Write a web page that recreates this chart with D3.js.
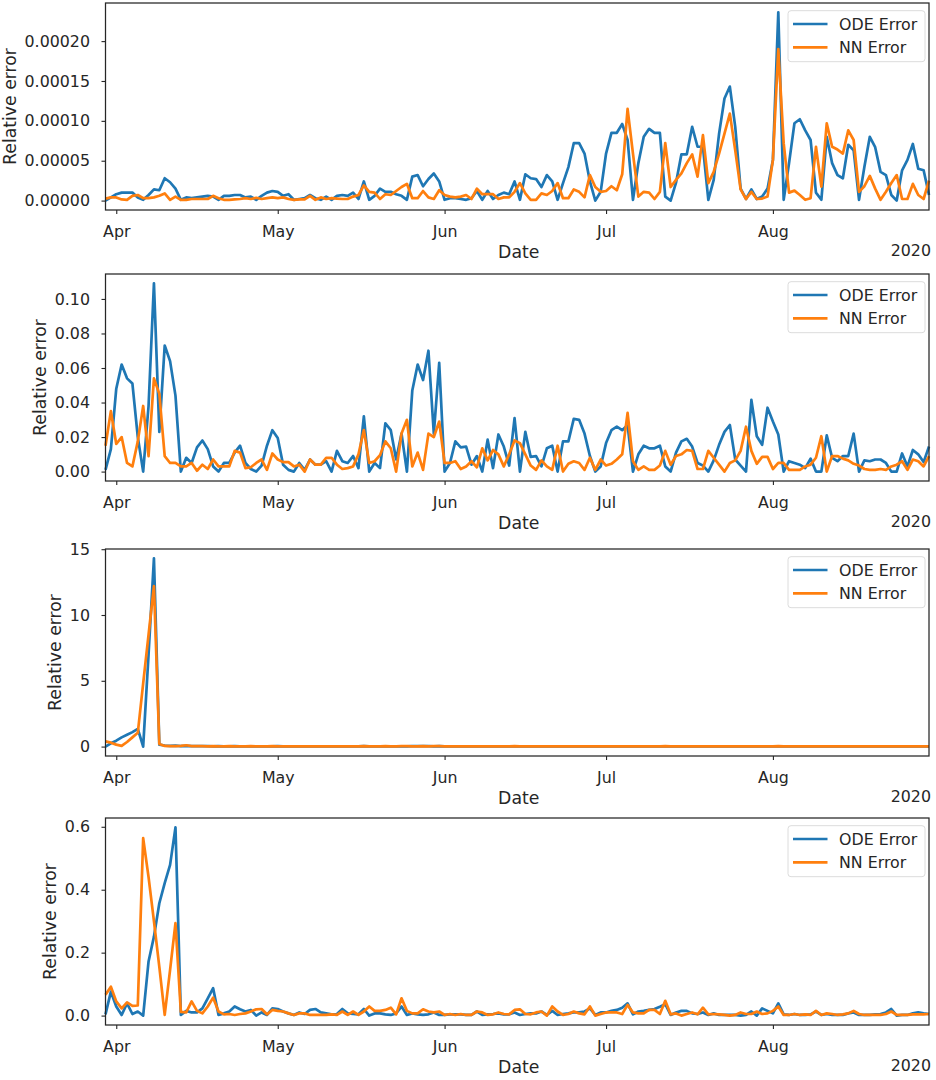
<!DOCTYPE html>
<html>
<head>
<meta charset="utf-8">
<script src="https://cdn.jsdelivr.net/npm/d3@7"></script>
<style>
  body { margin: 0; background: #fff; }
  svg text { font-family: "DejaVu Sans", sans-serif; fill: #262626; }
</style>
</head>
<body>
<svg id="chart" width="936" height="1080"></svg>
<script>
// daily values start on this date
const startDate = new Date(2020, 2, 30);
const monthTicks = [new Date(2020, 3, 1), new Date(2020, 4, 1), new Date(2020, 5, 1), new Date(2020, 6, 1), new Date(2020, 7, 1)];
const monthLabels = ["Apr", "May", "Jun", "Jul", "Aug"];
const yearLabel = "2020";
const seriesNames = ["ODE Error", "NN Error"];

// panel 1, values x 1e-5
const ode1 = [0, 0.4, 0.8, 1.0, 1.0, 1.0, 0.4, 0.1, 0.7, 1.4,
  1.3, 2.8, 2.3, 1.5, 0.1, 0.4, 0.3, 0.4, 0.5, 0.6,
  0.5, 0.1, 0.6, 0.6, 0.7, 0.7, 0.4, 0.5, 0.1, 0.6,
  1.0, 1.2, 1.1, 0.6, 0.8, 0.1, 0.2, 0.3, 0.7, 0.3,
  0.1, 0.5, 0.1, 0.6, 0.7, 0.6, 1.0, 0.2, 2.4, 0.1,
  0.6, 1.5, 1.1, 1.1, 0.8, 0.6, 0.1, 3.0, 3.2, 1.8,
  2.7, 3.4, 2.4, 0.1, 0.3, 0.3, 0.2, 0.1, 0.3, 1.2,
  0.1, 1.2, 0.2, 0.7, 1.0, 0.8, 2.4, 0.1, 3.3, 2.8,
  2.7, 1.7, 3.2, 2.4, 0.1, 2.2, 4.2, 7.2, 7.2, 5.9,
  2.4, 0.0, 1.1, 5.9, 8.5, 8.5, 9.6, 7.6, 0.1, 4.7,
  8.0, 9.0, 8.5, 8.5, 0.5, 0.0, 2.25, 5.8, 5.8, 9.25,
  6.75, 6.75, 0.1, 2.6, 8.4, 12.8, 14.3, 9.25, 1.5, 0.2,
  1.4, 0.2, 0.5, 1.5, 5.1, 23.6, 0.1, 4.7, 9.7, 10.2,
  8.8, 7.6, 1.0, 0.1, 8.0, 4.7, 3.2, 2.8, 7.0, 6.3,
  0.1, 4.25, 8.0, 6.7, 3.6, 3.2, 0.7, 0.0, 3.8, 5.1,
  7.1, 4.0, 3.8, 0.7];
const nn1 = [0.25, 0.4, 0.4, 0.15, 0.1, 0.6, 0.7, 0.3, 0.3, 0.4,
  0.6, 0.9, 0.1, 0.5, 0.1, 0.1, 0.2, 0.2, 0.2, 0.2,
  0.6, 0.3, 0.1, 0.1, 0.15, 0.2, 0.3, 0.2, 0.35, 0.2,
  0.3, 0.4, 0.3, 0.4, 0.2, 0.1, 0.15, 0.15, 0.6, 0.1,
  0.4, 0.2, 0.3, 0.25, 0.2, 0.2, 0.5, 0.7, 1.9, 1.1,
  1.0, 0.2, 0.8, 0.7, 1.2, 1.7, 2.1, 0.3, 0.3, 1.2,
  0.4, 0.2, 1.3, 0.7, 0.5, 0.4, 0.5, 0.7, 0.2, 1.5,
  0.8, 0.8, 0.8, 0.2, 0.4, 0.4, 1.1, 2.2, 0.9, 0.1,
  0.1, 0.9, 0.7, 1.2, 2.2, 0.3, 0.3, 1.4, 1.1, 0.4,
  3.2, 1.7, 1.1, 1.2, 1.8, 1.3, 3.3, 11.5, 5.9, 0.5,
  1.1, 1.0, 0.2, 1.1, 7.2, 1.7, 2.6, 3.4, 4.7, 5.8,
  3.0, 8.2, 2.2, 3.6, 5.9, 8.4, 10.9, 6.3, 1.4, 0.2,
  1.1, 0.2, 0.25, 0.5, 5.1, 19.0, 7.2, 1.0, 1.25, 0.7,
  0.1, 0.3, 6.75, 1.75, 9.7, 6.75, 6.4, 5.9, 8.8, 7.6,
  1.1, 1.8, 3.1, 1.5, 0.1, 1.1, 2.2, 3.2, 0.2, 0.2,
  2.1, 0.7, 0.2, 2.5];

// panel 2, values x 0.01
const ode2 = [0.1, 1.3, 4.8, 6.2, 5.4, 5.1, 2.0, 0.0, 3.8, 10.9,
  2.3, 7.3, 6.4, 4.4, 0.0, 0.8, 0.5, 1.4, 1.8, 1.3,
  0.3, 0.0, 0.5, 0.5, 1.1, 1.5, 0.5, 0.15, 0.0, 0.35,
  1.5, 2.4, 1.95, 0.4, 0.1, 0.0, 0.5, 0.1, 0.7, 0.4,
  0.4, 0.6, 0.0, 1.2, 0.6, 0.5, 0.9, 0.2, 3.2, 0.0,
  0.5, 0.2, 2.8, 2.4, 0.7, 2.2, 0.0, 4.7, 6.2, 5.3,
  7.0, 2.2, 6.3, 0.0, 0.5, 1.75, 1.4, 1.45, 0.4, 0.9,
  0.0, 1.85, 0.2, 2.15, 1.45, 0.35, 3.1, 0.0, 2.3, 0.85,
  0.9, 0.3, 1.35, 1.5, 0.0, 1.75, 1.75, 3.05, 3.0, 2.2,
  0.9, 0.0, 0.3, 1.65, 2.4, 2.6, 2.4, 2.7, 0.0, 1.0,
  1.5, 1.35, 1.35, 1.5, 0.3, 0.0, 1.1, 1.75, 1.9, 1.45,
  0.5, 0.35, 0.0, 0.65, 1.55, 2.3, 2.7, 0.7, 0.35, 0.0,
  4.15, 2.05, 1.55, 3.7, 2.9, 2.15, 0.0, 0.6, 0.5, 0.4,
  0.2, 0.75, 0.0, 0.0, 2.1, 0.8, 0.6, 0.9, 0.9, 2.2,
  0.0, 0.65, 0.6, 0.7, 0.7, 0.5, 0.0, 0.0, 1.05, 0.3,
  1.25, 1.0, 0.55, 1.45];
const nn2 = [1.5, 3.5, 1.6, 2.0, 0.5, 0.3, 1.75, 3.8, 0.9, 5.4,
  4.5, 0.9, 0.5, 0.5, 0.3, 0.3, 0.5, 0.05, 0.4, 0.15,
  0.7, 0.3, 0.3, 0.3, 1.2, 1.1, 0.2, 0.25, 0.5, 0.7,
  0.1, 1.05, 0.7, 0.55, 0.55, 0.3, 0.4, 0.0, 0.7, 0.4,
  0.4, 0.8, 0.8, 0.4, 0.15, 0.2, 0.3, 1.0, 2.4, 0.5,
  0.6, 0.95, 1.75, 1.35, 0.0, 2.2, 3.0, 0.3, 1.1, 0.1,
  2.2, 2.0, 2.9, 0.5, 0.5, 0.6, 0.15, 0.3, 0.6, 0.25,
  1.35, 0.65, 1.25, 1.0, 0.3, 1.0, 1.8, 1.65, 1.0, 0.35,
  0.1, 0.65, 0.3, 0.1, 1.5, 0.0, 0.45, 0.6, 0.5, 0.1,
  0.8, 0.1, 0.7, 0.35, 0.45, 0.7, 1.0, 3.4, 0.6, 0.1,
  0.3, 0.1, 0.1, 0.35, 1.2, 0.4, 0.9, 1.0, 1.25, 1.2,
  0.15, 0.15, 1.2, 0.8, 0.4, 0.0, 0.5, 0.65, 1.2, 2.6,
  1.2, 0.45, 0.85, 0.85, 0.15, 0.5, 0.5, 0.1, 0.1, 0.1,
  0.3, 0.4, 0.8, 2.05, 0.0, 0.9, 0.9, 0.75, 0.65, 0.45,
  0.35, 0.15, 0.1, 0.1, 0.15, 0.1, 0.3, 0.4, 0.6, 0.1,
  0.7, 0.6, 0.3, 0.9];

// panel 3, values as read
const ode3 = [0.0, 0.25, 0.45, 0.7, 0.9, 1.1, 1.35, 0.0, 7.0, 14.3,
  0.15, 0.08, 0.05, 0.07, 0.04, 0.05, 0.03, 0.04, 0.03, 0.03,
  0.02, 0.03, 0.02, 0.02, 0.03, 0.02, 0.02, 0.02, 0.01, 0.02,
  0.02, 0.02, 0.03, 0.02, 0.01, 0.01, 0.02, 0.01, 0.02, 0.01,
  0.01, 0.02, 0.01, 0.02, 0.01, 0.02, 0.02, 0.01, 0.03, 0.01,
  0.01, 0.02, 0.02, 0.02, 0.01, 0.02, 0.01, 0.03, 0.03, 0.03,
  0.03, 0.02, 0.03, 0.01, 0.01, 0.01, 0.01, 0.01, 0.01, 0.01,
  0.01, 0.01, 0.01, 0.02, 0.01, 0.01, 0.02, 0.01, 0.02, 0.01,
  0.01, 0.01, 0.01, 0.01, 0.01, 0.01, 0.01, 0.02, 0.02, 0.01,
  0.01, 0.01, 0.01, 0.01, 0.01, 0.02, 0.02, 0.02, 0.01, 0.01,
  0.01, 0.01, 0.01, 0.01, 0.01, 0.01, 0.01, 0.01, 0.01, 0.01,
  0.01, 0.01, 0.01, 0.01, 0.01, 0.01, 0.01, 0.01, 0.01, 0.01,
  0.02, 0.01, 0.01, 0.02, 0.01, 0.01, 0.01, 0.01, 0.01, 0.01,
  0.01, 0.01, 0.01, 0.01, 0.01, 0.01, 0.01, 0.01, 0.01, 0.01,
  0.01, 0.01, 0.01, 0.01, 0.01, 0.01, 0.01, 0.01, 0.01, 0.01,
  0.01, 0.01, 0.01, 0.01];
const nn3 = [0.4, 0.3, 0.15, 0.05, 0.35, 0.7, 1.05, 4.8, 8.5, 12.2,
  0.2, 0.05, 0.04, 0.03, 0.05, 0.1, 0.04, 0.03, 0.03, 0.02,
  0.03, 0.02, 0.02, 0.03, 0.02, 0.02, 0.02, 0.03, 0.02, 0.02,
  0.02, 0.03, 0.02, 0.02, 0.02, 0.01, 0.02, 0.02, 0.02, 0.01,
  0.02, 0.02, 0.02, 0.01, 0.02, 0.02, 0.01, 0.02, 0.03, 0.02,
  0.02, 0.02, 0.03, 0.02, 0.02, 0.03, 0.03, 0.02, 0.02, 0.03,
  0.02, 0.03, 0.03, 0.02, 0.02, 0.02, 0.01, 0.02, 0.02, 0.02,
  0.02, 0.02, 0.02, 0.02, 0.02, 0.02, 0.03, 0.02, 0.02, 0.02,
  0.02, 0.02, 0.02, 0.02, 0.02, 0.02, 0.02, 0.02, 0.02, 0.02,
  0.02, 0.02, 0.02, 0.02, 0.02, 0.02, 0.02, 0.02, 0.02, 0.02,
  0.02, 0.02, 0.02, 0.02, 0.03, 0.02, 0.02, 0.02, 0.02, 0.02,
  0.02, 0.02, 0.02, 0.02, 0.02, 0.02, 0.02, 0.02, 0.02, 0.02,
  0.02, 0.02, 0.02, 0.02, 0.02, 0.03, 0.02, 0.02, 0.02, 0.02,
  0.02, 0.02, 0.02, 0.02, 0.02, 0.02, 0.02, 0.02, 0.02, 0.02,
  0.02, 0.02, 0.02, 0.02, 0.02, 0.02, 0.02, 0.02, 0.02, 0.02,
  0.02, 0.02, 0.02, 0.02];

// panel 4, values x 0.01
const ode4 = [0.4, 7.6, 2.9, 0.2, 3.9, 0.5, 1.3, 0.0, 17.2, 25.1,
  35.7, 42.1, 47.9, 59.8, 0.2, 1.5, 1.0, 1.0, 2.3, 5.5,
  8.7, 0.2, 0.7, 1.3, 2.9, 2.0, 1.3, 1.8, 0.0, 1.0,
  0.2, 2.3, 2.1, 1.3, 0.7, 0.2, 1.0, 0.5, 1.8, 2.1,
  1.0, 0.7, 0.4, 0.5, 2.1, 0.7, 0.5, 0.4, 2.1, 0.0,
  0.7, 0.7, 0.4, 0.2, 0.7, 2.9, 0.2, 0.7, 0.4, 0.2,
  0.4, 1.0, 0.2, 0.2, 0.4, 0.4, 0.4, 0.2, 0.2, 1.3,
  0.2, 0.4, 0.5, 0.7, 0.4, 0.4, 1.0, 0.2, 0.5, 0.7,
  0.7, 1.3, 0.2, 1.5, 0.2, 0.5, 0.7, 1.0, 1.0, 1.3,
  2.3, 0.2, 1.0, 1.0, 1.5, 1.8, 2.5, 3.9, 0.4, 1.3,
  1.5, 1.8, 2.1, 2.8, 3.6, 0.2, 1.0, 1.5, 1.5, 0.7,
  0.5, 1.0, 0.2, 0.7, 0.2, 0.2, 0.2, 0.2, 0.0, 0.2,
  1.3, 0.0, 2.3, 1.5, 0.7, 3.9, 0.4, 0.2, 0.5, 0.2,
  0.2, 0.4, 1.3, 0.2, 0.5, 0.2, 0.2, 0.2, 0.7, 1.0,
  0.2, 0.2, 0.2, 0.4, 0.5, 1.0, 2.1, 0.0, 0.2, 0.2,
  0.7, 1.0, 0.7, 0.5];
const nn4 = [6.6, 9.2, 4.5, 2.3, 4.2, 3.1, 3.2, 56.4, 44.0, 30.0,
  15.5, 0.2, 14.5, 29.4, 1.2, 1.0, 4.5, 1.5, 0.7, 2.9,
  5.7, 1.3, 0.4, 0.5, 0.2, 0.5, 0.7, 1.3, 2.0, 2.1,
  0.4, 1.8, 1.5, 1.3, 0.7, 0.2, 0.7, 0.7, 0.2, 0.2,
  0.2, 0.2, 0.4, 0.2, 1.3, 0.2, 1.3, 0.2, 1.3, 2.9,
  1.5, 1.5, 1.8, 2.5, 0.4, 5.5, 1.5, 0.7, 0.7, 2.0,
  1.3, 1.0, 1.3, 0.2, 0.5, 0.2, 0.5, 0.2, 0.2, 1.3,
  1.0, 0.2, 0.4, 1.0, 0.5, 0.4, 1.8, 2.0, 0.5, 0.4,
  1.0, 1.3, 0.0, 2.9, 1.3, 0.2, 0.5, 1.3, 0.7, 0.4,
  2.9, 0.0, 0.5, 1.0, 1.0, 1.0, 0.5, 3.4, 1.0, 0.7,
  0.7, 1.8, 1.8, 0.5, 4.7, 0.4, 0.7, 0.0, 0.5, 1.0,
  0.4, 2.5, 0.4, 0.5, 0.4, 0.2, 0.0, 0.2, 1.0, 0.5,
  0.5, 1.3, 0.5, 0.7, 1.5, 2.9, 0.2, 0.2, 0.5, 0.2,
  0.4, 0.2, 1.5, 0.2, 0.7, 0.5, 0.2, 0.4, 0.7, 1.5,
  0.5, 0.2, 0.2, 0.2, 0.2, 0.5, 1.3, 0.2, 0.2, 0.2,
  0.4, 0.4, 0.4, 0.5];

const yTicks1 = [0, 0.00005, 0.0001, 0.00015, 0.0002];
const yTicks2 = [0, 0.02, 0.04, 0.06, 0.08, 0.10];
const yTicks3 = [0, 5, 10, 15];
const yTicks4 = [0, 0.2, 0.4, 0.6];

const panels = [
  { ode: ode1, nn: nn1, unit: 1e-5, ticks: yTicks1, fmt: d => d.toFixed(5) },
  { ode: ode2, nn: nn2, unit: 0.01, ticks: yTicks2, fmt: d => d.toFixed(2) },
  { ode: ode3, nn: nn3, unit: 1, ticks: yTicks3, fmt: d => d3.format("d")(d) },
  { ode: ode4, nn: nn4, unit: 0.01, ticks: yTicks4, fmt: d => d.toFixed(1) }
];

const left = 105.5, right = 929, panelH = 207;
const tops = [3, 274, 549, 818];
const colors = ["#1f77b4", "#ff7f0e"];
const tickFont = 15.84, labelFont = 17.28;
const ink = "#262626";

const svg = d3.select("#chart");
const dates = ode1.map((_, i) => d3.timeDay.offset(startDate, i));

const x = d3.scaleTime()
  .domain([dates[0], dates[dates.length - 1]])
  .range([left, right]);

panels.forEach((p, k) => {
  const top = tops[k];
  const bottom = top + panelH;
  const series = [p.ode.map(v => v * p.unit), p.nn.map(v => v * p.unit)];
  const all = series.flat();
  const lo = d3.min(all), hi = d3.max(all);
  const pad = (hi - lo) * 0.05;

  const y = d3.scaleLinear()
    .domain([lo - pad, hi + pad])
    .range([bottom, top]);

  const g = svg.append("g");

  const line = d3.line()
    .x((d, i) => x(dates[i]))
    .y(d => y(d));

  series.forEach((vals, s) => {
    g.append("path")
      .datum(vals)
      .attr("d", line)
      .attr("fill", "none")
      .attr("stroke", colors[s])
      .attr("stroke-width", 2.7)
      .attr("stroke-linejoin", "round");
  });

  // x axis
  const xAxis = d3.axisBottom(x)
    .tickValues(monthTicks)
    .tickFormat((d, i) => monthLabels[i])
    .tickSize(4)
    .tickPadding(11.3);

  const gx = g.append("g")
    .attr("transform", `translate(0, ${bottom})`)
    .call(xAxis);
  gx.select(".domain").remove();
  gx.selectAll("line").attr("stroke", ink).attr("stroke-width", 1.1);
  gx.selectAll("text").attr("font-size", tickFont).attr("fill", ink);

  // y axis
  const yAxis = d3.axisLeft(y)
    .tickValues(p.ticks)
    .tickFormat(p.fmt)
    .tickSize(4)
    .tickPadding(11.5);

  const gy = g.append("g")
    .attr("transform", `translate(${left}, 0)`)
    .call(yAxis);
  gy.select(".domain").remove();
  gy.selectAll("line").attr("stroke", ink).attr("stroke-width", 1.1);
  gy.selectAll("text").attr("font-size", tickFont).attr("fill", ink);

  // frame
  g.append("rect")
    .attr("x", left)
    .attr("y", top)
    .attr("width", right - left)
    .attr("height", panelH)
    .attr("fill", "none")
    .attr("stroke", ink)
    .attr("stroke-width", 1.25);

  // axis labels
  g.append("text")
    .attr("x", (left + right) / 2 + 1.5)
    .attr("y", bottom + 47.5)
    .attr("text-anchor", "middle")
    .attr("font-size", labelFont)
    .text("Date");

  g.append("text")
    .attr("x", right + 2)
    .attr("y", bottom + 46)
    .attr("text-anchor", "end")
    .attr("font-size", tickFont)
    .text(yearLabel);

  const tickLeft = d3.min(gy.selectAll("text").nodes(), n => n.getBBox().x) + left;
  g.append("text")
    .attr("transform", `translate(${tickLeft - 8.5}, ${(top + bottom) / 2}) rotate(-90)`)
    .attr("text-anchor", "middle")
    .attr("font-size", labelFont)
    .text("Relative error");

  // legend
  const lg = g.append("g")
    .attr("transform", `translate(${right - 141}, ${top + 7.7})`);
  lg.append("rect")
    .attr("width", 137)
    .attr("height", 51)
    .attr("rx", 3)
    .attr("fill", "#fff")
    .attr("fill-opacity", 0.8)
    .attr("stroke", "#dcdcdc")
    .attr("stroke-width", 1);
  seriesNames.forEach((name, s) => {
    const ly = 13.3 + s * 23.3;
    lg.append("line")
      .attr("x1", 5).attr("x2", 39.5)
      .attr("y1", ly).attr("y2", ly)
      .attr("stroke", colors[s])
      .attr("stroke-width", 2.7);
    lg.append("text")
      .attr("x", 51)
      .attr("y", ly + 5.7)
      .attr("font-size", tickFont)
      .text(name);
  });
});
</script>
</body>
</html>
